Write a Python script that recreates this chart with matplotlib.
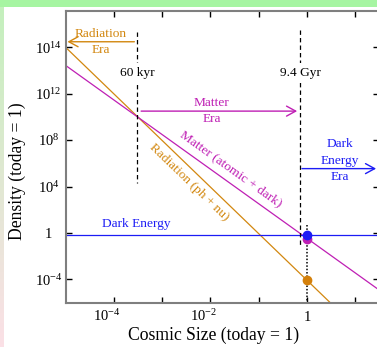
import numpy as np
import matplotlib
matplotlib.use('Agg')
import matplotlib.pyplot as plt
from matplotlib.patches import Rectangle
from matplotlib.transforms import ScaledTranslation
from matplotlib.colors import to_rgb

# ---------------- data ----------------
rad_size = [1e-5, 10**0.5]
rad_density = [10**15.95, 10**-6.05]
mat_size = [1e-5, 10**1.5]
mat_density = [10**14.4, 10**-4.9]
de_size = [1e-5, 10**1.5]
de_density = [0.7, 0.7]

today_size = [1.0, 1.0, 1.0]
today_density = [9e-5, 0.3, 0.7]

eq_rm_size = 10**-3.52     # 60 kyr
eq_mde_size = 10**-0.14    # 9.4 Gyr

x_ticks = [1e-4, 1e-3, 1e-2, 1e-1, 1, 10]
x_ticklabels = [r'$\mathregular{10^{-4}}$', '', r'$\mathregular{10^{-2}}$', '', r'$\mathregular{1}$', '']
y_ticks = [1e-4, 1, 1e4, 1e8, 1e12, 1e16]
y_ticklabels = [r'$\mathregular{10^{-4}}$', r'$\mathregular{1}$', r'$\mathregular{10^{4}}$',
                r'$\mathregular{10^{8}}$', r'$\mathregular{10^{12}}$', r'$\mathregular{10^{14}}$']

C_RAD = '#d2870f'
C_MAT = '#bf1fb4'
C_DE = '#1c1cf5'

plt.rcParams['font.family'] = ['Liberation Serif', 'DejaVu Serif']
plt.rcParams['mathtext.fontset'] = 'custom'
plt.rcParams['mathtext.rm'] = 'Liberation Serif'
plt.rcParams['mathtext.it'] = 'Liberation Serif:italic'
plt.rcParams['mathtext.bf'] = 'Liberation Serif:bold'

W, H = 377, 347
fig = plt.figure(figsize=(W / 100, H / 100), dpi=100)
fig.patch.set_facecolor('white')

# slide background bits
fig.add_artist(Rectangle((0, 1 - 6.5 / H), 1, 6.5 / H, transform=fig.transFigure,
                         facecolor='#a6f5a2', edgecolor='none', zorder=-10))
bg = fig.add_axes([0, 0, 4 / W, 1 - 6.5 / H], zorder=-5)
top_c = np.array(to_rgb('#c4f0bd'))
bot_c = np.array(to_rgb('#fbe0e6'))
t = np.linspace(0, 1, 100)[:, None]
grad = (top_c[None, :] * (1 - t) + bot_c[None, :] * t)[:, None, :]
bg.imshow(grad, aspect='auto', extent=[0, 1, 0, 1])
bg.axis('off')

ax = fig.add_axes([66 / W, (H - 302.7) / H, (379 - 66) / W, (302.7 - 10.5) / H])
ax.set_xscale('log')
ax.set_yscale('log')
ax.set_xlim(1e-5, 10**1.5)
ax.set_ylim(1e-6, 10**19.15)

# lines
ax.plot(rad_size, rad_density, color=C_RAD, lw=0.9)
ax.plot(mat_size, mat_density, color=C_MAT, lw=0.9)
ax.plot(de_size, de_density, color=C_DE, lw=0.9)

# era boundaries
ax.plot([eq_rm_size, eq_rm_size], [10**17.3, 10**4.28], color='black', lw=0.9,
        linestyle=(0, (3.5, 2.5)))
ax.plot([eq_mde_size, eq_mde_size], [10**17.5, 10**-1.2], color='black', lw=0.9,
        linestyle=(0, (3.5, 2.5)))
ax.plot([1, 1], [10**0.66, 1e-6], color='black', lw=1.1, linestyle=(0, (1, 1.2)))

# points today
ax.plot(today_size[0], today_density[0], 'o', color='#d4800a', ms=6, zorder=5)
ax.plot(today_size[1], today_density[1], 'o', color=C_MAT, ms=6, zorder=5)
ax.plot(today_size[2], today_density[2], 'o', color=C_DE, ms=6, zorder=6)

fs = 9.6
ls = 1.5
ax.text(eq_rm_size, 10**13.76, '60 kyr', ha='center', va='center', fontsize=fs,
        bbox=dict(fc='white', ec='none', pad=3))
ax.text(eq_mde_size, 10**13.76, '9.4 Gyr', ha='center', va='center', fontsize=fs,
        bbox=dict(fc='white', ec='none', pad=3))

arrow_kw = dict(arrowstyle='->,head_length=0.55,head_width=0.3', lw=1.0,
                shrinkA=0, shrinkB=0, mutation_scale=12)
ax.annotate('', xy=(10**-4.97, 10**16.46), xytext=(10**-3.58, 10**16.46),
            arrowprops=dict(color=C_RAD, **arrow_kw))
ax.text(10**-4.28, 10**16.45, 'Radiation\nEra', color=C_RAD, ha='center', va='center',
        fontsize=fs, linespacing=ls)

ax.annotate('', xy=(10**-0.2, 10**10.49), xytext=(10**-3.44, 10**10.49),
            arrowprops=dict(color=C_MAT, **arrow_kw))
ax.text(10**-1.98, 10**10.5, 'Matter\nEra', color=C_MAT, ha='center', va='center',
        fontsize=fs, linespacing=ls)

ax.annotate('', xy=(10**1.44, 10**5.54), xytext=(10**-0.1, 10**5.54),
            arrowprops=dict(color=C_DE, **arrow_kw))
ax.text(10**0.68, 10**6.2, 'Dark\nEnergy\nEra', color=C_DE, ha='center', va='center',
        fontsize=fs, linespacing=ls)

ax.text(10**-3.55, 10**0.75, 'Dark Energy', color=C_DE, ha='center', va='center', fontsize=fs)


def screen_angle(xs, ys):
    p = ax.transData.transform(np.column_stack([xs, ys]))
    return np.degrees(np.arctan2(p[1, 1] - p[0, 1], p[1, 0] - p[0, 0]))


ax.text(10**-1.58, 10**5.48, 'Matter (atomic + dark)', color=C_MAT, fontsize=fs,
        ha='center', va='center', rotation=screen_angle(mat_size, mat_density),
        rotation_mode='anchor')
ax.text(10**-2.44, 10**4.36, 'Radiation (ph + nu)', color=C_RAD, fontsize=fs,
        ha='center', va='center', rotation=screen_angle(rad_size, rad_density),
        rotation_mode='anchor')

# axes styling
for s in ax.spines.values():
    s.set_color('#7f7f7f')
    s.set_linewidth(1.5)

ax.set_xticks(x_ticks)
ax.set_xticklabels(x_ticklabels)
ax.set_yticks(y_ticks)
ax.set_yticklabels(y_ticklabels)
ax.xaxis.set_minor_locator(matplotlib.ticker.NullLocator())
ax.yaxis.set_minor_locator(matplotlib.ticker.NullLocator())
ax.tick_params(which='major', direction='in', length=4.5, width=1, color='black',
               top=True, right=True, labelsize=10.5)
ax.tick_params(axis='x', pad=13.2)
ax.tick_params(axis='y', pad=12.6)

for tk in ax.xaxis.get_major_ticks():
    tk.label1.set_verticalalignment('baseline')
for i, tk in enumerate(ax.xaxis.get_major_ticks()):
    if x_ticklabels[i] and '10' in x_ticklabels[i]:
        tk.label1.set_transform(tk.label1.get_transform() +
                                ScaledTranslation(-7 / 100, 0, fig.dpi_scale_trans))
for tk in ax.yaxis.get_major_ticks():
    tk.label1.set_horizontalalignment('center')

ax.set_xlabel('Cosmic Size (today = 1)', fontsize=12.7)
ax.set_ylabel('Density (today = 1)', fontsize=12.7)
ax.xaxis.set_label_coords((213.9 - 66) / 313, (302.7 - 326.5) / 292.2)
ax.yaxis.set_label_coords((26.5 - 66) / 313, (302.7 - 171.5) / 292.2)

fig.savefig('out.png', dpi=100)
